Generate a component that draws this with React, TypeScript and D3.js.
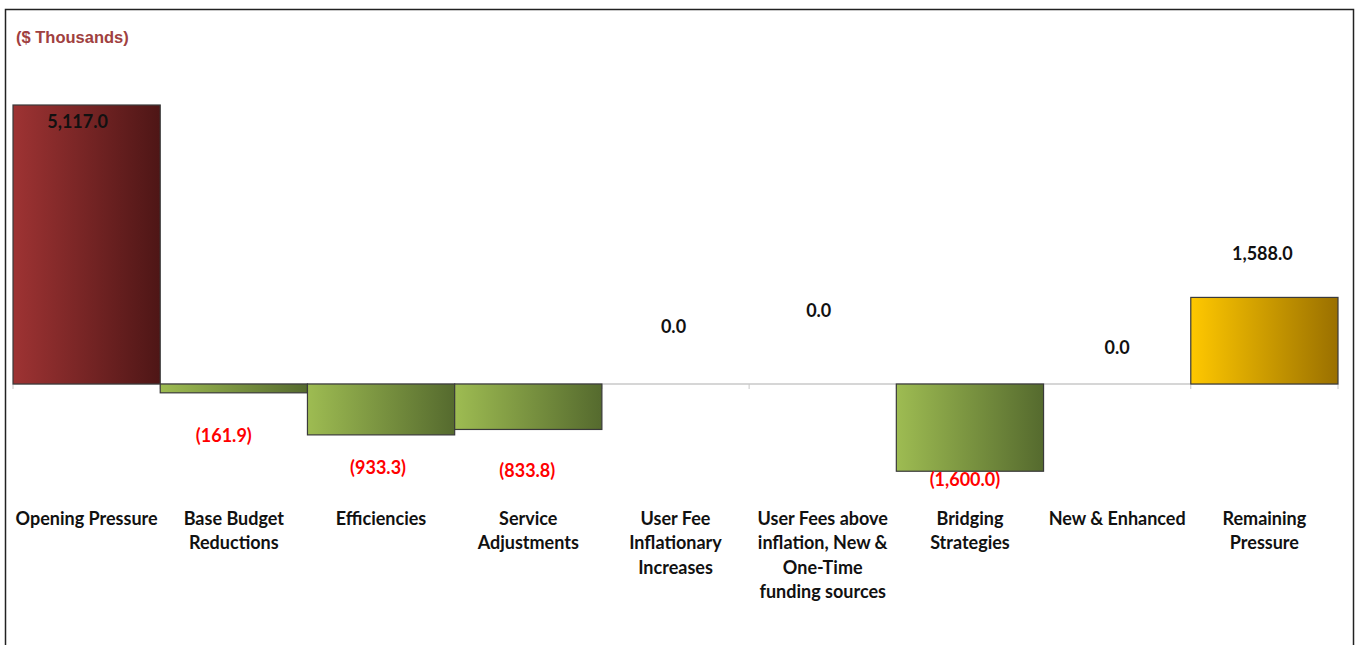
import React from "react";
import * as d3 from "d3";

const categories: string[][] = [
  ["Opening Pressure"],
  ["Base Budget", "Reductions"],
  ["Efficiencies"],
  ["Service", "Adjustments"],
  ["User Fee", "Inflationary", "Increases"],
  ["User Fees above", "inflation, New &", "One-Time", "funding sources"],
  ["Bridging", "Strategies"],
  ["New & Enhanced"],
  ["Remaining", "Pressure"],
];
const values: number[] = [5117.0, -161.9, -933.3, -833.8, 0.0, 0.0, -1600.0, 0.0, 1588.0];
const kinds: string[] = ["open", "cut", "cut", "cut", "cut", "cut", "cut", "cut", "remain"];

// layout: label offsets in px from the bar end / band centre
const labelDy: number[] = [16, 42, 32, 41, -58, -74, 8, -37, -44];
const labelDx: number[] = [-9, -10, -3, -1, -2, -4, -5, 0, -2];

const W = 1358;
const H = 645;

const fmt = (v: number) => {
  const s = d3.format(",.1f")(Math.abs(v));
  return v < 0 ? `(${s})` : s;
};

export default function App() {
  const x = d3
    .scaleBand<number>()
    .domain(values.map((_, i) => i))
    .range([13, 1338])
    .padding(0);
  const y = d3.scaleLinear().domain([-2000, 6000]).range([493.05, 56.86]);
  const y0 = y(0);
  const bw = x.bandwidth();

  const gradId: Record<string, string> = { open: "gOpen", cut: "gCut", remain: "gRemain" };

  return (
    <svg
      width={W}
      height={H}
      style={{ position: "absolute", left: 0, top: 0, background: "#fff" }}
    >
      <defs>
        <linearGradient id="gOpen" x1="0" x2="1" y1="0" y2="0">
          <stop offset="0" stopColor="#9E3333" />
          <stop offset="1" stopColor="#4E1616" />
        </linearGradient>
        <linearGradient id="gCut" x1="0" x2="1" y1="0" y2="0">
          <stop offset="0" stopColor="#9EBC52" />
          <stop offset="1" stopColor="#556A2E" />
        </linearGradient>
        <linearGradient id="gRemain" x1="0" x2="1" y1="0" y2="0">
          <stop offset="0" stopColor="#FFC800" />
          <stop offset="1" stopColor="#9A7000" />
        </linearGradient>
      </defs>
      <rect x={5.5} y={9.5} width={1348} height={660} fill="#fff" stroke="#222" strokeWidth={1.5} />
      <text
        x={16}
        y={43}
        fontFamily="'Liberation Sans', Arial, sans-serif"
        fontWeight="bold"
        fontSize={16.5}
        fill="#A04040"
      >
        ($ Thousands)
      </text>

      {/* axis line and ticks */}
      <line x1={13} x2={1338} y1={y0} y2={y0} stroke="#c8c8c8" strokeWidth={1.5} />
      {d3.range(values.length + 1).map((i) => {
        const xx = i < values.length ? x(i)! : x(values.length - 1)! + bw;
        return <line key={i} x1={xx} x2={xx} y1={y0} y2={y0 + 5} stroke="#c8c8c8" strokeWidth={1} />;
      })}

      {values.map((v, i) => {
        if (v === 0) return null;
        const top = Math.min(y(v), y0);
        const h = Math.abs(y(v) - y0);
        return (
          <rect
            key={i}
            x={x(i)!}
            y={top}
            width={bw}
            height={h}
            fill={`url(#${gradId[kinds[i]]})`}
            stroke="#3a3a3a"
            strokeWidth={1.2}
          />
        );
      })}

      {values.map((v, i) => (
        <text
          key={i}
          x={x(i)! + bw / 2 + labelDx[i]}
          y={y(v) + labelDy[i]}
          textAnchor="middle"
          dominantBaseline="central"
          fontFamily="Lato, 'Open Sans', sans-serif"
          fontWeight="bold"
          fontSize={18}
          fill={v < 0 ? "#FF0000" : "#111"}
        >
          {fmt(v)}
        </text>
      ))}

      {categories.map((lines, i) => (
        <text
          key={i}
          x={x(i)! + bw / 2}
          textAnchor="middle"
          fontFamily="Lato, 'Open Sans', sans-serif"
          fontWeight="bold"
          fontSize={18}
          fill="#111"
        >
          {lines.map((l, j) => (
            <tspan key={j} x={x(i)! + bw / 2} y={518 + j * 24.4} dominantBaseline="central">
              {l}
            </tspan>
          ))}
        </text>
      ))}
    </svg>
  );
}
